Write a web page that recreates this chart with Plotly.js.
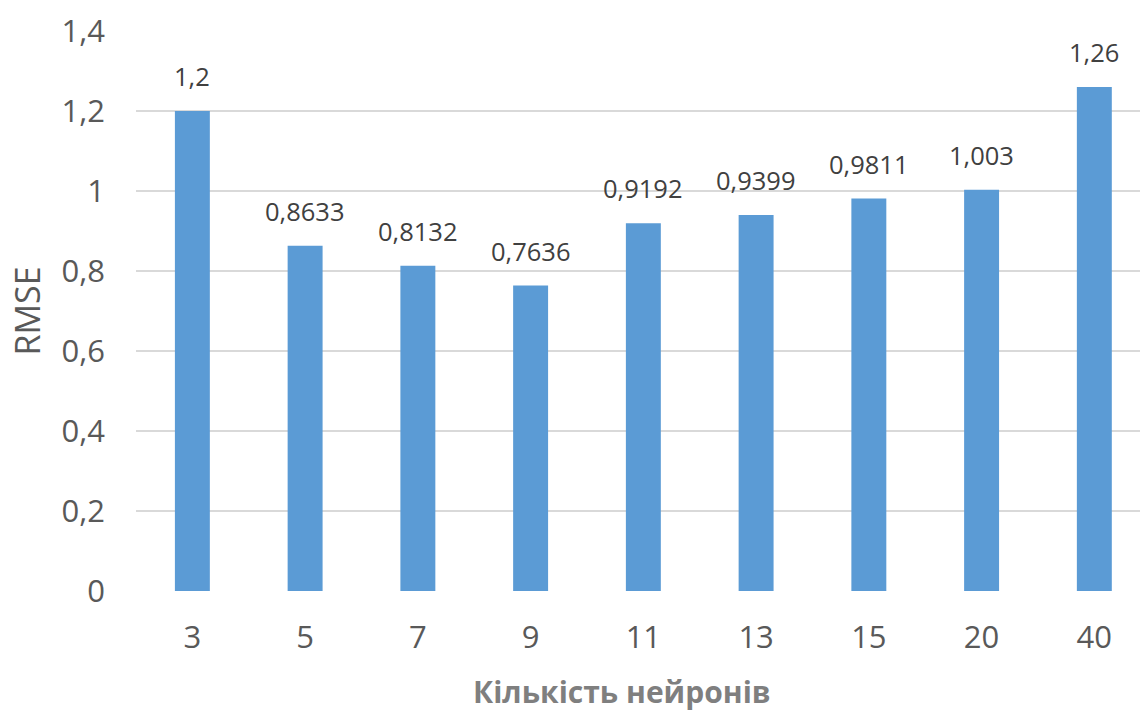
<!DOCTYPE html>
<html>
<head>
<meta charset="utf-8">
<script src="https://cdn.plot.ly/plotly-3.0.1.min.js"></script>
<style>
  html, body { margin: 0; padding: 0; background: #ffffff; overflow: hidden; }
  #chart { width: 1140px; height: 727px; }
</style>
</head>
<body>
<div id="chart"></div>
<script>
// Number of neurons in the hidden layer
const neurons = ['3', '5', '7', '9', '11', '13', '15', '20', '40'];
// RMSE for each network size
const rmse = [1.2, 0.8633, 0.8132, 0.7636, 0.9192, 0.9399, 0.9811, 1.003, 1.26];
// Labels shown above each bar
const rmseLabels = ['1,2', '0,8633', '0,8132', '0,7636', '0,9192', '0,9399', '0,9811', '1,003', '1,26'];
const yTickVals = [0, 0.2, 0.4, 0.6, 0.8, 1, 1.2, 1.4];
const yTickText = ['0', '0,2', '0,4', '0,6', '0,8', '1', '1,2', '1,4'];

const bars = {
  type: 'bar',
  x: neurons,
  y: rmse,
  marker: { color: '#5B9BD5' },
  hoverinfo: 'x+y'
};

// value labels above the bars (category axis: position by index)
const valueNotes = neurons.map((n, i) => ({
  x: i,
  y: rmse[i],
  xref: 'x',
  yref: 'y',
  text: rmseLabels[i],
  showarrow: false,
  xanchor: 'center',
  yanchor: 'bottom',
  yshift: 16,
  font: { family: 'Open Sans', size: 25.5, color: '#404040' }
}));

valueNotes.push({
  x: 0.484,
  y: -0.18,
  xref: 'paper',
  yref: 'paper',
  xanchor: 'center',
  yanchor: 'middle',
  text: 'Кількість нейронів',
  showarrow: false,
  font: { family: 'Open Sans', size: 30, weight: 'bold', color: '#7f7f7f' }
});

const layout = {
  width: 1140,
  height: 727,
  margin: { l: 136, r: 0, t: 31, b: 136 },
  paper_bgcolor: '#ffffff',
  plot_bgcolor: '#ffffff',
  showlegend: false,
  bargap: 0.69,
  xaxis: {
    type: 'category',
    range: [-0.5, 8.405],
    showgrid: false,
    zeroline: false,
    showline: false,
    ticks: '',
    ticklabelstandoff: 25,
    tickfont: { family: 'Open Sans', size: 31, color: '#595959' }
  },
  yaxis: {
    range: [0, 1.4],
    tickvals: yTickVals,
    ticktext: yTickText,
    showgrid: true,
    gridcolor: '#d9d9d9',
    gridwidth: 1.5,
    zeroline: false,
    showline: false,
    ticks: '',
    ticklabelstandoff: 30,
    tickfont: { family: 'Open Sans', size: 31, color: '#595959' },
    title: {
      text: 'RMSE',
      standoff: 10,
      font: { family: 'Open Sans', size: 34, color: '#595959' }
    }
  },
  annotations: valueNotes
};

Plotly.newPlot('chart', [bars], layout, { displayModeBar: false, staticPlot: true });
</script>
</body>
</html>
